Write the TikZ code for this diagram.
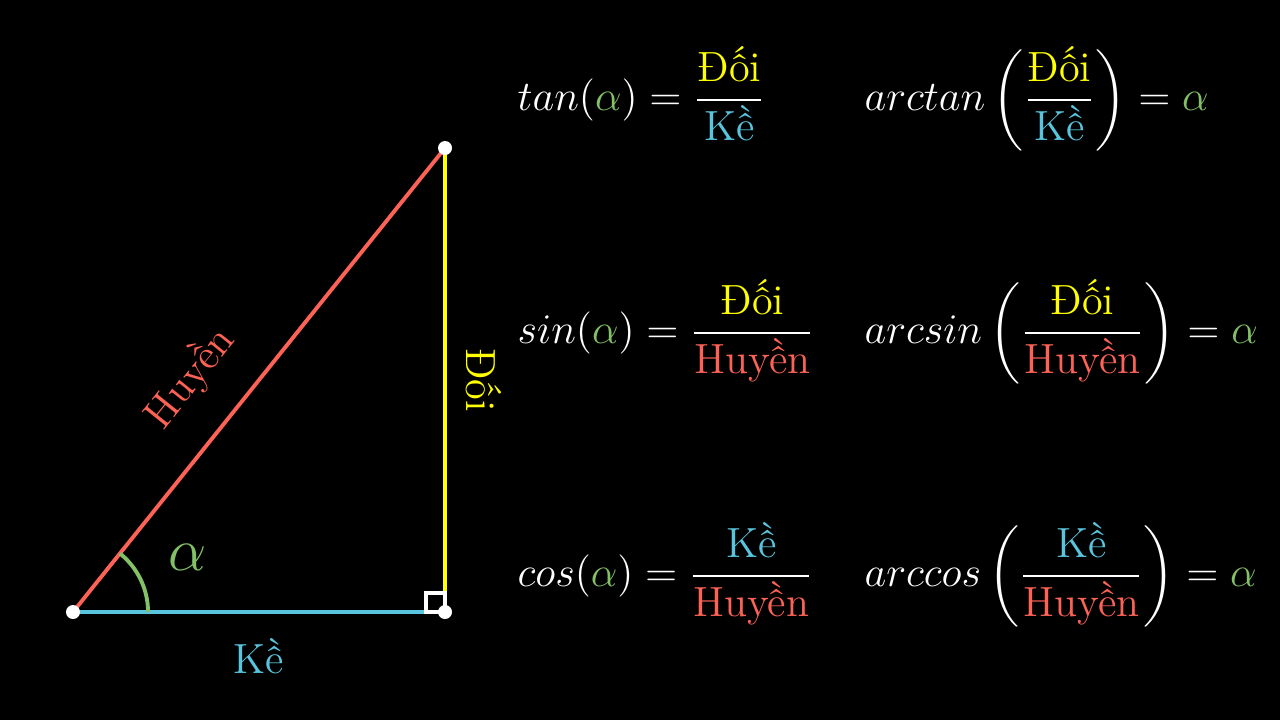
\documentclass[tikz,border=0pt]{standalone}
\usepackage{amsmath}
\usepackage{xcolor}

\definecolor{hypred}{HTML}{FC6255}
\definecolor{adjblue}{HTML}{58C4DD}
\definecolor{oppyellow}{HTML}{FFFF00}
\definecolor{anggreen}{HTML}{83C167}

\newcommand{\Doi}{\textcolor{oppyellow}{\text{Đối}}}
\newcommand{\Ke}{\textcolor{adjblue}{\text{Kề}}}
\newcommand{\Huyen}{\textcolor{hypred}{\text{Huyền}}}
\newcommand{\alp}{\textcolor{anggreen}{\alpha}}

\begin{document}
\begin{tikzpicture}[x=0.01cm,y=0.01cm,
		side/.style={line width=1.1pt},
		vertex/.style={circle,fill=white,inner sep=0pt,minimum size=0.14cm},
		lbl/.style={inner sep=0pt,font=\fontsize{12}{14}\selectfont},
		formula/.style={text=white,anchor=base west,inner sep=0pt,font=\fontsize{12}{14}\selectfont}]
				\fill[black] (0,0) rectangle (1280,720);
				
				\coordinate (A) at (73,108);
				\coordinate (B) at (445,108);
				\coordinate (C) at (445,572);
				
				% sides of the triangle
				\draw[side,hypred] (A) -- (C) node[lbl,pos=0.43,sloped,above=0.32cm,text=hypred] (hyplabel) {Huyền};
				\draw[side,adjblue] (A) -- (B) node[lbl,midway,below=0.25cm,text=adjblue] (adjlabel) {Kề};
				\draw[side,oppyellow] (C) -- (B) node[lbl,midway,sloped,above=0.19cm,text=oppyellow] (opplabel) {Đối};
				
				% angle and right angle
				\draw[side,anggreen] ([shift={(0:0.75cm)}]A) arc (0:51.3:0.75cm);
				\node at (188,163) [inner sep=0pt,text=anggreen,font=\fontsize{18}{20}\selectfont] (anglabel) {$\alpha$};
				\draw[line width=1pt,white] (426,108) rectangle (445,127);
				
				\node[vertex] (dotA) at (A) {};
				\node[vertex] (dotB) at (B) {};
				\node[vertex] (dotC) at (C) {};
				
				% formulas
				\node[formula] (tanf) at (517,609.5) {$\displaystyle tan(\alp) = \frac{\Doi}{\Ke}$};
				\node[formula] (sinf) at (517,376.5) {$\displaystyle sin(\alp) = \frac{\Doi}{\Huyen}$};
				\node[formula] (cosf) at (517,133.5) {$\displaystyle cos(\alp) = \frac{\Ke}{\Huyen}$};
				
				\node[formula] (atanf) at (864,609.5) {$\displaystyle arctan\left(\frac{\Doi}{\Ke}\right) = \alp$};
				\node[formula] (asinf) at (864,376.5) {$\displaystyle arcsin\left(\frac{\Doi}{\Huyen}\right) = \alp$};
				\node[formula] (acosf) at (864,133.5) {$\displaystyle arccos\left(\frac{\Ke}{\Huyen}\right) = \alp$};
			\end{tikzpicture}
\end{document}
